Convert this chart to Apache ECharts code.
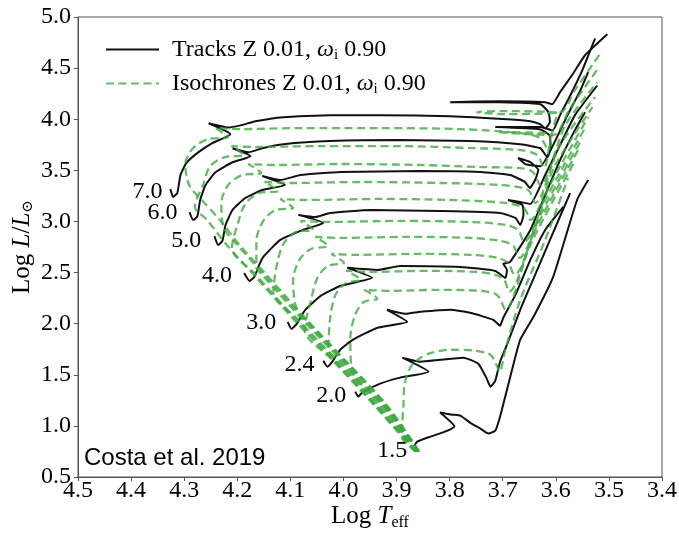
<!DOCTYPE html>
<html><head><meta charset="utf-8">
<script src="https://cdn.jsdelivr.net/npm/echarts@6/dist/echarts.min.js"></script>
<style>html,body{margin:0;padding:0;background:#fff}#c{width:679px;height:534px}</style>
</head><body><div id="c"></div>
<script>
// ---- axis ranges ----
const xRange = [3.4, 4.5];
const yRange = [0.5, 5.0];

// ---- evolutionary tracks [Log Teff, Log L] ----
const trackMasses = ['7.0','6.0','5.0','4.0','3.0','2.4','2.0','1.5'];
const track_7_0 = [[4.326,3.317],[4.321,3.239],[4.313,3.277],[4.307,3.453],[4.296,3.571],[4.273,3.678],[4.247,3.766],[4.213,3.854],[4.254,3.961],[4.217,3.920],[4.194,3.940],[4.166,3.980],[4.113,4.020],[4.025,4.040],[3.931,4.040],[3.799,4.030],[3.691,4.000],[3.648,3.980],[3.629,3.950],[3.620,3.910],[3.611,3.972],[3.614,4.069],[3.629,4.147],[3.705,4.167],[3.799,4.167],[3.705,4.177],[3.620,4.167],[3.607,4.147],[3.592,4.265],[3.567,4.450],[3.545,4.626],[3.503,4.831]];
const track_6_0 = [[4.290,3.091],[4.283,3.013],[4.275,3.052],[4.270,3.208],[4.260,3.354],[4.241,3.481],[4.209,3.579],[4.175,3.638],[4.209,3.716],[4.179,3.677],[4.153,3.716],[4.113,3.755],[4.025,3.786],[3.893,3.796],[3.761,3.786],[3.667,3.755],[3.629,3.716],[3.616,3.628],[3.610,3.716],[3.612,3.843],[3.629,3.900],[3.714,3.923],[3.629,3.923],[3.606,3.890],[3.592,4.040],[3.573,4.230],[3.550,4.480],[3.526,4.790]];
const track_5_0 = [[4.243,2.857],[4.236,2.770],[4.228,2.809],[4.222,2.966],[4.209,3.112],[4.185,3.229],[4.153,3.307],[4.110,3.356],[4.153,3.444],[4.119,3.405],[4.081,3.454],[4.006,3.483],[3.855,3.493],[3.742,3.483],[3.686,3.454],[3.658,3.385],[3.649,3.327],[3.639,3.405],[3.633,3.503],[3.648,3.580],[3.671,3.620],[3.657,3.560],[3.629,3.540],[3.601,3.790],[3.578,4.040],[3.554,4.280],[3.539,4.460]];
const track_4_0 = [[4.187,2.495],[4.177,2.417],[4.168,2.456],[4.160,2.560],[4.151,2.653],[4.119,2.819],[4.076,2.917],[4.038,2.985],[4.085,3.064],[4.053,3.044],[4.025,3.083],[3.949,3.112],[3.817,3.102],[3.705,3.083],[3.676,3.034],[3.667,2.966],[3.661,3.063],[3.663,3.161],[3.690,3.210],[3.667,3.190],[3.648,3.171],[3.620,3.454],[3.592,3.747],[3.564,4.040],[3.522,4.330]];
const track_3_0 = [[4.105,2.017],[4.098,1.949],[4.088,1.998],[4.072,2.134],[4.043,2.272],[4.006,2.369],[3.946,2.448],[3.993,2.546],[3.936,2.526],[3.893,2.565],[3.780,2.555],[3.714,2.516],[3.695,2.448],[3.692,2.526],[3.699,2.585],[3.686,2.605],[3.648,2.917],[3.620,3.259],[3.592,3.600],[3.564,3.893],[3.545,4.069]];
const track_2_4 = [[4.038,1.638],[4.030,1.579],[4.021,1.628],[4.006,1.745],[3.982,1.843],[3.936,1.960],[3.880,2.019],[3.918,2.136],[3.884,2.097],[3.855,2.116],[3.799,2.136],[3.761,2.106],[3.718,2.038],[3.705,1.980],[3.699,2.058],[3.676,2.282],[3.648,2.624],[3.620,2.917],[3.586,3.142]];
const track_2_0 = [[3.978,1.335],[3.972,1.286],[3.965,1.325],[3.931,1.413],[3.893,1.472],[3.840,1.530],[3.889,1.667],[3.855,1.628],[3.818,1.647],[3.774,1.667],[3.746,1.608],[3.731,1.472],[3.723,1.384],[3.714,1.443],[3.705,1.628],[3.692,1.794],[3.667,2.136],[3.639,2.478],[3.611,2.819],[3.573,3.278]];
const track_1_5 = [[3.863,0.769],[3.866,0.807],[3.861,0.846],[3.836,0.895],[3.804,0.954],[3.791,0.993],[3.818,1.130],[3.795,1.110],[3.780,1.100],[3.761,1.030],[3.742,0.973],[3.727,0.925],[3.714,0.954],[3.705,1.090],[3.692,1.354],[3.681,1.579],[3.667,1.843],[3.642,2.067],[3.605,2.458],[3.560,3.210],[3.539,3.405]];

// ---- isochrones [Log Teff, Log L] ----
const iso_01 = [[3.857,0.749],[3.919,1.208],[3.994,1.628],[4.069,2.038],[4.145,2.478],[4.196,2.771],[4.233,3.015],[4.267,3.210],[4.290,3.347],[4.298,3.562],[4.283,3.718],[4.255,3.806],[4.217,3.825],[4.241,3.913],[4.194,3.903],[4.081,3.913],[3.931,3.913],[3.780,3.903],[3.667,3.864],[3.629,3.815],[3.614,3.698],[3.606,3.893],[3.597,4.059],[3.705,4.079],[3.748,4.069],[3.696,4.050],[3.592,4.069],[3.564,4.284],[3.516,4.646]];
const iso_02 = [[3.865,0.749],[3.943,1.208],[4.018,1.628],[4.093,2.038],[4.169,2.478],[4.220,2.771],[4.257,3.015],[4.280,3.142],[4.264,3.366],[4.251,3.542],[4.223,3.630],[4.187,3.649],[4.211,3.737],[4.166,3.728],[4.044,3.737],[3.893,3.737],[3.761,3.718],[3.667,3.698],[3.635,3.649],[3.622,3.522],[3.612,3.747],[3.610,3.854],[3.710,3.874],[3.606,3.845],[3.573,4.108],[3.520,4.499]];
const iso_03 = [[3.858,0.749],[3.923,1.208],[3.998,1.628],[4.073,2.038],[4.149,2.478],[4.200,2.771],[4.226,2.946],[4.230,3.181],[4.217,3.356],[4.191,3.454],[4.155,3.474],[4.179,3.562],[4.128,3.552],[4.006,3.562],[3.855,3.552],[3.742,3.532],[3.667,3.522],[3.643,3.483],[3.629,3.356],[3.582,3.942],[3.522,4.362]];
const iso_04 = [[3.864,0.749],[3.939,1.208],[4.014,1.628],[4.089,2.038],[4.165,2.478],[4.210,2.741],[4.198,2.995],[4.185,3.171],[4.159,3.278],[4.123,3.298],[4.149,3.386],[4.100,3.376],[3.968,3.386],[3.818,3.376],[3.705,3.356],[3.652,3.308],[3.639,3.181],[3.592,3.747],[3.526,4.216]];
const iso_05 = [[3.860,0.749],[3.927,1.208],[4.002,1.628],[4.077,2.038],[4.153,2.478],[4.164,2.546],[4.164,2.810],[4.151,3.005],[4.128,3.112],[4.095,3.132],[4.119,3.220],[4.072,3.210],[3.931,3.220],[3.799,3.210],[3.695,3.181],[3.660,3.132],[3.648,3.015],[3.601,3.552],[3.531,4.118]];
const iso_06 = [[3.862,0.749],[3.935,1.208],[4.010,1.628],[4.085,2.038],[4.132,2.312],[4.125,2.585],[4.113,2.780],[4.089,2.898],[4.057,2.917],[4.081,3.005],[4.034,2.995],[3.893,3.005],[3.761,2.995],[3.695,2.966],[3.671,2.917],[3.660,2.800],[3.611,3.356],[3.539,4.021]];
const iso_07 = [[3.858,0.749],[3.921,1.208],[3.996,1.628],[4.071,2.038],[4.088,2.136],[4.095,2.419],[4.083,2.624],[4.061,2.731],[4.029,2.761],[4.053,2.849],[4.006,2.839],[3.874,2.849],[3.761,2.839],[3.705,2.810],[3.680,2.761],[3.669,2.644],[3.620,3.210],[3.545,3.913]];
const iso_08 = [[3.864,0.749],[3.941,1.208],[4.016,1.628],[4.073,1.940],[4.061,2.233],[4.049,2.448],[4.029,2.565],[3.999,2.595],[4.023,2.683],[3.978,2.673],[3.855,2.683],[3.761,2.673],[3.710,2.644],[3.690,2.595],[3.678,2.478],[3.629,3.064],[3.550,3.815]];
const iso_09 = [[3.861,0.749],[3.931,1.208],[4.006,1.628],[4.028,1.745],[4.025,2.058],[4.015,2.282],[3.995,2.399],[3.968,2.429],[3.995,2.517],[3.950,2.507],[3.837,2.517],[3.752,2.507],[3.714,2.478],[3.697,2.429],[3.688,2.312],[3.639,2.917],[3.558,3.698]];
const iso_10 = [[3.859,0.749],[3.925,1.208],[3.984,1.540],[3.987,1.853],[3.978,2.087],[3.961,2.214],[3.936,2.243],[3.961,2.331],[3.912,2.321],[3.818,2.331],[3.742,2.321],[3.714,2.292],[3.705,2.243],[3.695,2.136],[3.648,2.771],[3.565,3.581]];
const iso_11 = [[3.863,0.749],[3.890,0.896],[3.887,1.208],[3.885,1.403],[3.874,1.569],[3.855,1.667],[3.833,1.716],[3.799,1.745],[3.752,1.735],[3.723,1.696],[3.712,1.599],[3.706,1.530],[3.695,1.745],[3.667,2.233],[3.620,2.819],[3.577,3.425]];

// ---- mass labels [Log Teff, Log L] ----
const massLabelPos = [[4.369,3.288],[4.341,3.083],[4.296,2.810],[4.238,2.468],[4.155,2.009],[4.083,1.599],[4.023,1.296],[3.908,0.759]];

const tracks = [track_7_0, track_6_0, track_5_0, track_4_0, track_3_0, track_2_4, track_2_0, track_1_5];
const isochrones = [iso_01, iso_02, iso_03, iso_04, iso_05, iso_06, iso_07, iso_08, iso_09, iso_10, iso_11];

const SERIF = 'Liberation Serif';
const series = [];
tracks.forEach(d => series.push({
  type: 'line', name: 'tracks', data: d, symbol: 'none', showSymbol: false,
  smooth: 0.15, itemStyle: { color: '#111' }, lineStyle: { color: '#111', width: 2 }, z: 2, silent: true
}));
isochrones.forEach(d => series.push({
  type: 'line', name: 'iso', data: d, symbol: 'none', showSymbol: false,
  smooth: 0.3, itemStyle: { color: 'rgba(60,168,60,0.78)' },
  lineStyle: { color: 'rgba(60,168,60,0.78)', width: 2.3, type: [8, 4.5] }, z: 3, silent: true
}));
series.push({
  type: 'scatter', name: 'labels', symbolSize: 0.01, itemStyle: { color: '#000' }, silent: true, z: 5,
  data: massLabelPos.map((p, i) => ({ value: p, name: trackMasses[i] })),
  label: { show: true, position: 'inside', formatter: '{b}', color: '#000', fontFamily: SERIF, fontSize: 24,
           textBorderWidth: 0, opacity: 1 }
});

const rich = {
  n: { fontFamily: SERIF, fontSize: 24, color: '#000', lineHeight: 26 },
  w: { fontFamily: SERIF, fontSize: 24, fontStyle: 'italic', color: '#000', lineHeight: 26 },
  s: { fontFamily: SERIF, fontSize: 15, color: '#000', lineHeight: 15, padding: [12, 0, 0, 0] },
  p: { width: 8, fontSize: 10 }
};
const axRich = {
  n: { fontFamily: SERIF, fontSize: 25, color: '#000', lineHeight: 27 },
  i: { fontFamily: SERIF, fontSize: 25, fontStyle: 'italic', color: '#000', lineHeight: 27 },
  s: { fontFamily: 'DejaVu Serif', fontSize: 15, color: '#000', lineHeight: 15, padding: [12, 0, 0, 0] },
  e: { fontFamily: SERIF, fontSize: 16, color: '#000', lineHeight: 16, padding: [12, 0, 0, 0] }
};

const chart = echarts.init(document.getElementById('c'), null, { renderer: 'canvas' });
chart.setOption({
  animation: false,
  backgroundColor: '#fff',
  grid: { left: 78, right: 17, top: 17, bottom: 57, containLabel: false, outerBoundsMode: 'none',
          show: true, borderColor: '#555', borderWidth: 1, backgroundColor: 'transparent' },
  legend: {
    data: ['tracks', 'iso'], orient: 'vertical', left: 100, top: 31, itemWidth: 53, itemHeight: 14, itemGap: 7,
    selectedMode: false,
    itemStyle: { opacity: 0, borderWidth: 0 },
    formatter: n => n === 'tracks'
      ? '{p| }{n|Tracks Z 0.01, }{w|ω}{s|i}{n| 0.90}'
      : '{p| }{n|Isochrones Z 0.01, }{w|ω}{s|i}{n| 0.90}',
    textStyle: { rich: rich }
  },
  xAxis: {
    type: 'value', inverse: true, min: xRange[0], max: xRange[1], interval: 0.1,
    axisLine: { show: true, onZero: false, lineStyle: { color: '#555', width: 1 } },
    axisTick: { show: true, length: 4, lineStyle: { color: '#555' } },
    axisLabel: { color: '#000', fontFamily: SERIF, fontSize: 24, margin: 2, showMinLabel: true, showMaxLabel: true,
                 formatter: v => v.toFixed(1) },
    splitLine: { show: false },
    name: '{n|Log }{i|T}{e|eff}', nameLocation: 'middle', nameGap: 26, nameMoveOverlap: false,
    nameTextStyle: { rich: axRich }
  },
  yAxis: {
    type: 'value', min: yRange[0], max: yRange[1], interval: 0.5,
    axisLine: { show: true, onZero: false, lineStyle: { color: '#555', width: 1 } },
    axisTick: { show: true, length: 4, lineStyle: { color: '#555' } },
    axisLabel: { color: '#000', fontFamily: SERIF, fontSize: 24, margin: 7, showMinLabel: true, showMaxLabel: true,
                 formatter: v => v.toFixed(1) },
    splitLine: { show: false },
    name: '{n|Log }{i|L}{n|/}{i|L}{s|⊙}', nameLocation: 'middle', nameGap: 42, nameMoveOverlap: false,
    nameTextStyle: { rich: axRich }
  },
  graphic: [{
    type: 'text', left: 84, top: 446, silent: true,
    style: { text: 'Costa et al. 2019', font: '24px "Liberation Sans"', fill: '#000' }
  }],
  series: series
});
</script>
</body></html>
